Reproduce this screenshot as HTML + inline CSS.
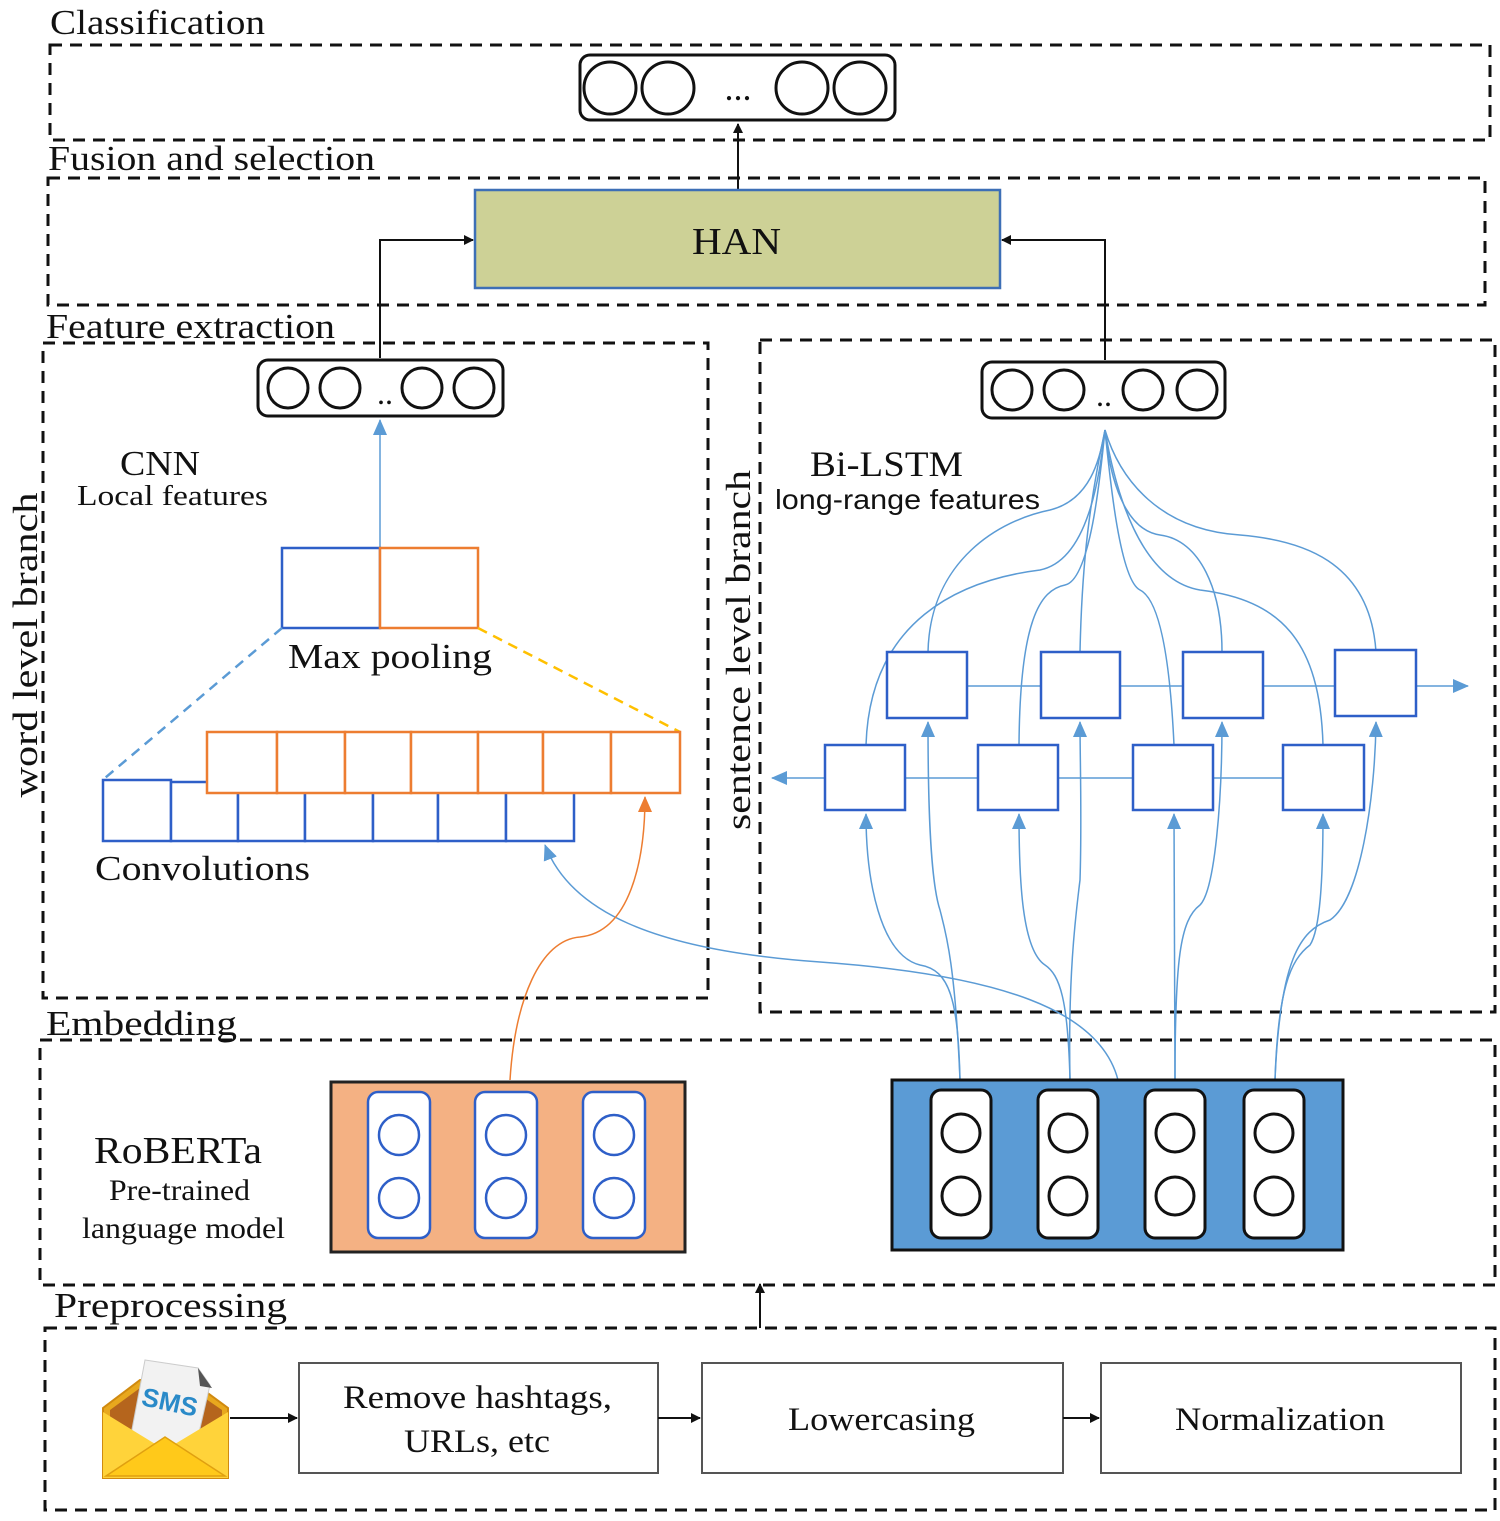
<!DOCTYPE html>
<html><head><meta charset="utf-8"><style>
html,body{margin:0;padding:0;background:#fff}
svg{display:block}
.s{font-family:"Liberation Serif",serif;fill:#111}
.a{font-family:"Liberation Sans",sans-serif;fill:#111}
</style></head><body>
<svg width="1500" height="1521" viewBox="0 0 1500 1521" xmlns="http://www.w3.org/2000/svg">
<defs>
<marker id="ak" markerWidth="10" markerHeight="10" refX="9" refY="5" orient="auto" markerUnits="userSpaceOnUse"><path d="M0,0 L10,5 L0,10 z" fill="#111"/></marker>
<marker id="ab" markerWidth="16" markerHeight="14" refX="15" refY="7" orient="auto" markerUnits="userSpaceOnUse"><path d="M0,0 L16,7 L0,14 z" fill="#5b9bd5"/></marker>
<marker id="ao" markerWidth="16" markerHeight="14" refX="15" refY="7" orient="auto" markerUnits="userSpaceOnUse"><path d="M0,0 L16,7 L0,14 z" fill="#ed7d31"/></marker>
</defs>
<g fill="none" stroke="#111" stroke-width="3" stroke-dasharray="12,8">
<rect x="50" y="45" width="1440" height="95"/>
<rect x="48" y="178" width="1437" height="127"/>
<rect x="43" y="343" width="665" height="655"/>
<rect x="760" y="340" width="735" height="672"/>
<rect x="40" y="1040" width="1455" height="245"/>
<rect x="45" y="1328" width="1450" height="182"/>
</g>
<g class="s" font-size="35" lengthAdjust="spacingAndGlyphs">
<text x="50" y="34" textLength="215" lengthAdjust="spacingAndGlyphs">Classification</text>
<text x="48" y="170" textLength="327" lengthAdjust="spacingAndGlyphs">Fusion and selection</text>
<text x="46" y="338" textLength="289" lengthAdjust="spacingAndGlyphs">Feature extraction</text>
<text x="46" y="1035" textLength="191" lengthAdjust="spacingAndGlyphs">Embedding</text>
<text x="54" y="1317" textLength="233" lengthAdjust="spacingAndGlyphs">Preprocessing</text>
</g>
<!-- classification -->
<rect x="580" y="55" width="315" height="65" rx="10" fill="#fff" stroke="#111" stroke-width="3"/>
<g fill="none" stroke="#111" stroke-width="3">
<ellipse cx="610" cy="88" rx="26" ry="26"/><ellipse cx="668" cy="88" rx="26" ry="26"/>
<ellipse cx="802" cy="88" rx="26" ry="26"/><ellipse cx="860" cy="88" rx="26" ry="26"/>
</g>
<text x="738" y="100" class="s" font-size="36" text-anchor="middle">...</text>
<line x1="738" y1="190" x2="738" y2="124" stroke="#111" stroke-width="2" marker-end="url(#ak)"/>
<!-- HAN -->
<rect x="475" y="190" width="525" height="98" fill="#cdd196" stroke="#3d6fb6" stroke-width="2.5"/>
<text x="692" y="254" class="s" font-size="38" textLength="89" lengthAdjust="spacingAndGlyphs">HAN</text>
<path d="M380,358 V240 H473" fill="none" stroke="#111" stroke-width="2" marker-end="url(#ak)"/>
<path d="M1105,360 V240 H1002" fill="none" stroke="#111" stroke-width="2" marker-end="url(#ak)"/>
<!-- feature vectors -->
<rect x="258" y="360" width="245" height="56" rx="10" fill="#fff" stroke="#111" stroke-width="3"/>
<g fill="none" stroke="#111" stroke-width="3">
<circle cx="288" cy="388" r="20"/><circle cx="340" cy="388" r="20"/><circle cx="422" cy="388" r="20"/><circle cx="474" cy="388" r="20"/>
</g>
<text x="385" y="404" class="s" font-size="32" text-anchor="middle">..</text>
<rect x="982" y="362" width="243" height="56" rx="10" fill="#fff" stroke="#111" stroke-width="3"/>
<g fill="none" stroke="#111" stroke-width="3">
<circle cx="1012" cy="390" r="20"/><circle cx="1064" cy="390" r="20"/><circle cx="1143" cy="390" r="20"/><circle cx="1197" cy="390" r="20"/>
</g>
<text x="1104" y="406" class="s" font-size="32" text-anchor="middle">..</text>
<!-- CNN -->
<text x="120" y="475" class="s" font-size="35" textLength="80" lengthAdjust="spacingAndGlyphs">CNN</text>
<text x="77" y="505" class="s" font-size="29" textLength="191" lengthAdjust="spacingAndGlyphs">Local  features</text>
<line x1="380" y1="548" x2="380" y2="420" stroke="#5b9bd5" stroke-width="1.5" marker-end="url(#ab)"/>
<rect x="282" y="548" width="98" height="80" fill="#fff" stroke="#2e5fc8" stroke-width="2.5"/>
<rect x="380" y="548" width="98" height="80" fill="#fff" stroke="#ed7d31" stroke-width="2.5"/>
<text x="288" y="668" class="s" font-size="35" textLength="204" lengthAdjust="spacingAndGlyphs">Max pooling</text>
<line x1="282" y1="628" x2="105" y2="778" stroke="#5b9bd5" stroke-width="2.5" stroke-dasharray="10,7"/>
<line x1="478" y1="628" x2="680" y2="732" stroke="#ffc000" stroke-width="2.5" stroke-dasharray="10,7"/>
<g fill="#fff" stroke="#2e5fc8" stroke-width="2.5">
<rect x="103" y="780" width="68" height="61"/><rect x="171" y="782" width="67" height="59"/>
<rect x="238" y="782" width="67" height="59"/><rect x="305" y="782" width="68" height="59"/>
<rect x="373" y="782" width="65" height="59"/><rect x="438" y="782" width="68" height="59"/>
<rect x="506" y="782" width="68" height="59"/>
</g>
<g fill="#fff" stroke="#ed7d31" stroke-width="2.5">
<rect x="207" y="732" width="70" height="61"/><rect x="277" y="732" width="68" height="61"/>
<rect x="345" y="732" width="66" height="61"/><rect x="411" y="732" width="67" height="61"/>
<rect x="478" y="732" width="65" height="61"/><rect x="543" y="732" width="68" height="61"/>
<rect x="611" y="732" width="69" height="61"/>
</g>
<text x="95" y="880" class="s" font-size="35" textLength="215" lengthAdjust="spacingAndGlyphs">Convolutions</text>
<path d="M1118,1080 C1100,1010 1000,975 820,962 C650,950 570,910 545,845" fill="none" stroke="#5b9bd5" stroke-width="1.5" marker-end="url(#ab)"/>
<path d="M510,1080 C515,1000 540,940 580,937 C630,932 645,860 645,797" fill="none" stroke="#ed7d31" stroke-width="1.5" marker-end="url(#ao)"/>
<!-- vertical labels -->
<text transform="translate(37,645) rotate(-90)" class="s" font-size="35" text-anchor="middle" textLength="305" lengthAdjust="spacingAndGlyphs">word  level branch</text>
<text transform="translate(750,650) rotate(-90)" class="s" font-size="35" text-anchor="middle" textLength="360" lengthAdjust="spacingAndGlyphs">sentence  level branch</text>
<!-- Bi-LSTM -->
<text x="810" y="476" class="s" font-size="36" textLength="153" lengthAdjust="spacingAndGlyphs">Bi-LSTM</text>
<text x="775" y="509" class="a" font-size="28" textLength="265" lengthAdjust="spacingAndGlyphs">long-range features</text>
<g fill="none" stroke="#5b9bd5" stroke-width="1.5">
<path d="M928,652 C930,560 1000,520 1050,510 C1090,500 1100,460 1105,430"/>
<path d="M866,745 C870,620 960,580 1040,570 C1090,560 1100,470 1105,430"/>
<path d="M1080,652 C1082,560 1090,500 1105,430"/>
<path d="M1019,745 C1020,620 1040,590 1065,585 C1090,580 1100,480 1105,430"/>
<path d="M1222,652 C1222,590 1200,540 1160,535 C1125,530 1110,480 1105,430"/>
<path d="M1174,745 C1170,660 1160,600 1140,590 C1120,580 1110,480 1105,430"/>
<path d="M1376,652 C1370,560 1300,540 1240,535 C1160,530 1120,480 1105,430"/>
<path d="M1323,745 C1320,640 1280,600 1200,590 C1140,580 1115,490 1105,430"/>
<line x1="967" y1="686" x2="1041" y2="686"/><line x1="1120" y1="686" x2="1183" y2="686"/>
<line x1="1263" y1="686" x2="1335" y2="686"/>
<line x1="1416" y1="686" x2="1468" y2="686" marker-end="url(#ab)"/>
<line x1="905" y1="778" x2="978" y2="778"/><line x1="1058" y1="778" x2="1133" y2="778"/>
<line x1="1213" y1="778" x2="1283" y2="778"/>
<line x1="825" y1="778" x2="772" y2="778" marker-end="url(#ab)"/>
<path d="M960,1080 C958,1000 950,970 920,965 C880,955 866,880 866,814" marker-end="url(#ab)"/>
<path d="M960,1080 C955,960 945,930 940,910 C930,880 928,800 928,722" marker-end="url(#ab)"/>
<path d="M1070,1080 C1068,1000 1060,975 1045,965 C1022,950 1019,880 1019,814" marker-end="url(#ab)"/>
<path d="M1070,1080 C1068,980 1075,920 1080,880 C1082,820 1080,760 1080,722" marker-end="url(#ab)"/>
<path d="M1175,1080 L1174,814" marker-end="url(#ab)"/>
<path d="M1175,1080 C1175,960 1180,920 1200,905 C1215,890 1222,800 1222,722" marker-end="url(#ab)"/>
<path d="M1275,1080 C1278,990 1290,960 1310,945 C1320,930 1323,880 1323,814" marker-end="url(#ab)"/>
<path d="M1275,1080 C1280,960 1300,930 1330,920 C1360,900 1375,800 1376,722" marker-end="url(#ab)"/>
</g>
<g fill="#fff" stroke="#2e5fc8" stroke-width="2.5">
<rect x="887" y="652" width="80" height="66"/><rect x="1041" y="652" width="79" height="66"/>
<rect x="1183" y="652" width="80" height="66"/><rect x="1335" y="650" width="81" height="66"/>
<rect x="825" y="745" width="80" height="65"/><rect x="978" y="745" width="80" height="65"/>
<rect x="1133" y="745" width="80" height="65"/><rect x="1283" y="745" width="81" height="65"/>
</g>
<!-- Embedding -->
<text x="94" y="1163" class="s" font-size="38" textLength="168" lengthAdjust="spacingAndGlyphs">RoBERTa</text>
<text x="109" y="1200" class="s" font-size="30" textLength="141" lengthAdjust="spacingAndGlyphs">Pre-trained</text>
<text x="82" y="1238" class="s" font-size="30" textLength="203" lengthAdjust="spacingAndGlyphs">language model</text>
<rect x="331" y="1082" width="354" height="170" fill="#f4b183" stroke="#222" stroke-width="3"/>
<g fill="#fff" stroke="#2e5fc8" stroke-width="2.5">
<rect x="368" y="1092" width="62" height="146" rx="10"/><rect x="475" y="1092" width="62" height="146" rx="10"/><rect x="583" y="1092" width="62" height="146" rx="10"/>
</g>
<g fill="none" stroke="#2e5fc8" stroke-width="2.5">
<circle cx="399" cy="1135" r="20"/><circle cx="399" cy="1198" r="20"/>
<circle cx="506" cy="1135" r="20"/><circle cx="506" cy="1198" r="20"/>
<circle cx="614" cy="1135" r="20"/><circle cx="614" cy="1198" r="20"/>
</g>
<rect x="892" y="1080" width="451" height="170" fill="#5b9bd5" stroke="#111" stroke-width="3"/>
<g fill="#fff" stroke="#111" stroke-width="3">
<rect x="931" y="1090" width="60" height="148" rx="10"/><rect x="1038" y="1090" width="60" height="148" rx="10"/>
<rect x="1145" y="1090" width="60" height="148" rx="10"/><rect x="1244" y="1090" width="60" height="148" rx="10"/>
</g>
<g fill="none" stroke="#111" stroke-width="3">
<circle cx="961" cy="1133" r="19"/><circle cx="961" cy="1196" r="19"/>
<circle cx="1068" cy="1133" r="19"/><circle cx="1068" cy="1196" r="19"/>
<circle cx="1175" cy="1133" r="19"/><circle cx="1175" cy="1196" r="19"/>
<circle cx="1274" cy="1133" r="19"/><circle cx="1274" cy="1196" r="19"/>
</g>
<line x1="760" y1="1328" x2="760" y2="1284" stroke="#111" stroke-width="2" marker-end="url(#ak)"/>
<!-- Preprocessing -->
<g fill="#fff" stroke="#555" stroke-width="2">
<rect x="299" y="1363" width="359" height="110"/><rect x="702" y="1363" width="361" height="110"/><rect x="1101" y="1363" width="360" height="110"/>
</g>
<text x="343" y="1408" class="s" font-size="33" textLength="269" lengthAdjust="spacingAndGlyphs">Remove hashtags,</text>
<text x="404" y="1452" class="s" font-size="33" textLength="146" lengthAdjust="spacingAndGlyphs">URLs, etc</text>
<text x="788" y="1430" class="s" font-size="33" textLength="187" lengthAdjust="spacingAndGlyphs">Lowercasing</text>
<text x="1175" y="1430" class="s" font-size="33" textLength="210" lengthAdjust="spacingAndGlyphs">Normalization</text>
<g stroke="#111" stroke-width="2" marker-end="url(#ak)">
<line x1="230" y1="1418" x2="297" y2="1418"/><line x1="658" y1="1418" x2="700" y2="1418"/><line x1="1063" y1="1418" x2="1099" y2="1418"/>
</g>
<!-- SMS icon -->
<path d="M103,1408 L140,1380 L190,1380 L228,1408 L228,1478 L103,1478 Z" fill="#e8a81e" stroke="#d08a10" stroke-width="2"/>
<path d="M110,1410 L140,1388 L190,1388 L222,1410 L222,1440 L110,1440 Z" fill="#b5651d"/>
<path d="M145,1360 L198,1368 L210,1385 L195,1450 L130,1440 Z" fill="#f2f2f2" stroke="#ccc"/>
<path d="M198,1368 L212,1388 L200,1386 Z" fill="#555"/>
<text x="142" y="1410" transform="rotate(12 165 1400)" font-family="Liberation Sans,sans-serif" font-weight="bold" font-size="26" fill="#2a8ac8">SMS</text>
<path d="M103,1412 L165,1450 L228,1412 L228,1478 L103,1478 Z" fill="#ffd33a"/>
<path d="M106,1476 L165,1437 L225,1476 Z" fill="#ffc91a" stroke="#e0a010" stroke-width="1.5"/>
</svg>
</body></html>
